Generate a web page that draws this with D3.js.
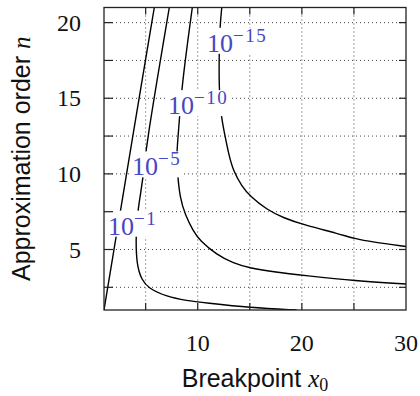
<!DOCTYPE html>
<html>
<head>
<meta charset="utf-8">
<script src="https://cdn.jsdelivr.net/npm/d3@7"></script>
<style>
  html, body { margin: 0; padding: 0; background: #fff; }
  svg { display: block; }
</style>
</head>
<body>
<div id="chart"></div>
<script>
// contour levels (mantissa + exponent, drawn as 10^exp)
const levelBase = ["10", "10", "10", "10"];
const levelExp = ["\u22121", "\u22125", "\u221210", "\u221215"];

// contour lines: [x0, n]
const contour1 = [[1.0, 1.0], [2.17, 5.88], [2.59, 7.58], [3.45, 11.2], [5.83, 21.0]];
const contour5 = [[7.27, 21.0], [5.0, 11.74], [4.8, 9.85], [4.24, 7.64], [4.05, 5.87], [4.13, 3.99],
  [4.62, 2.99], [5.26, 2.44], [7.02, 1.88], [8.94, 1.62], [10.7, 1.48], [15.02, 1.15], [19.5, 1.0]];
const contour10 = [[9.48, 21.0], [8.46, 15.83], [8.14, 12.62], [7.95, 11.18], [8.08, 9.85], [8.3, 8.42],
  [8.78, 7.31], [9.58, 6.2], [10.22, 5.58], [11.83, 4.65], [13.42, 4.1], [15.02, 3.77], [17.43, 3.5],
  [20.31, 3.28], [25.1, 2.93], [30.0, 2.72]];
const contour15 = [[12.31, 21.0], [12.14, 19.83], [12.05, 17.83], [12.05, 15.72], [12.21, 13.95],
  [12.62, 12.51], [12.98, 11.29], [13.42, 10.18], [14.23, 9.19], [15.02, 8.52], [16.63, 7.64],
  [18.22, 7.09], [20.31, 6.6], [23.5, 6.05], [25.1, 5.71], [26.7, 5.5], [30.0, 5.2]];

// where each label sits (data coords of text start / baseline)
const labelAt = [[1.38, 5.98], [3.69, 9.9], [7.15, 13.95], [10.89, 18.07]];

// ticks and grid
const xTickLabels = [10, 20, 30];
const xTicksAll = [5, 10, 15, 20, 25];
const yTickLabels = [5, 10, 15, 20];
const yTicksAll = [2.5, 5, 7.5, 10, 12.5, 15, 17.5, 20];

const margin = { top: 7.5, right: 14, bottom: 86, left: 104 };
const width = 420 - margin.left - margin.right;
const height = 396 - margin.top - margin.bottom;

const svg = d3.select("#chart").append("svg")
    .attr("width", 420)
    .attr("height", 396)
  .append("g")
    .attr("transform", `translate(${margin.left},${margin.top})`);

const x = d3.scaleLinear().domain([1, 30]).range([0, width]);
const y = d3.scaleLinear().domain([1, 21]).range([height, 0]);

svg.append("clipPath").attr("id", "plotclip")
  .append("rect").attr("width", width).attr("height", height);

// dotted grid
const grid = svg.append("g")
    .attr("stroke", "#444")
    .attr("stroke-width", 1)
    .attr("stroke-dasharray", "1,3");
grid.selectAll(".gx").data(xTicksAll).enter().append("line")
    .attr("x1", d => x(d)).attr("x2", d => x(d))
    .attr("y1", 0).attr("y2", height);
grid.selectAll(".gy").data(yTicksAll).enter().append("line")
    .attr("x1", 0).attr("x2", width)
    .attr("y1", d => y(d)).attr("y2", d => y(d));

// contour lines
const line = d3.line()
    .x(d => x(d[0]))
    .y(d => y(d[1]))
    .curve(d3.curveBasis);

svg.append("g").attr("clip-path", "url(#plotclip)")
  .selectAll("path")
  .data([contour1, contour5, contour10, contour15])
  .enter().append("path")
    .attr("d", line)
    .attr("fill", "none")
    .attr("stroke", "#000")
    .attr("stroke-width", 1.4);

// contour labels with white background
const labels = svg.append("g");
labelAt.forEach((p, i) => {
  const g = labels.append("g");
  const bg = g.append("rect").attr("fill", "#fff");
  const t = g.append("text")
      .attr("x", x(p[0]))
      .attr("y", y(p[1]))
      .attr("font-family", "Liberation Serif, serif")
      .attr("font-size", 26)
      .attr("fill", "#4747c2");
  t.append("tspan").text(levelBase[i]);
  t.append("tspan").attr("font-size", 19).attr("letter-spacing", 1.5).attr("dy", -10).text(levelExp[i]);
  const b = t.node().getBBox();
  bg.attr("x", b.x - 1).attr("y", b.y + 3)
    .attr("width", b.width + 2).attr("height", b.height - 7);
});

// frame
svg.append("rect")
    .attr("width", width).attr("height", height)
    .attr("fill", "none")
    .attr("stroke", "#222")
    .attr("stroke-width", 1.3);

// ticks on all four sides, pointing in
const ticks = svg.append("g").attr("stroke", "#222").attr("stroke-width", 1.2);
xTicksAll.forEach(d => {
  ticks.append("line").attr("x1", x(d)).attr("x2", x(d)).attr("y1", height).attr("y2", height - 7);
  ticks.append("line").attr("x1", x(d)).attr("x2", x(d)).attr("y1", 0).attr("y2", 7);
});
yTicksAll.forEach(d => {
  ticks.append("line").attr("x1", 0).attr("x2", 9).attr("y1", y(d)).attr("y2", y(d));
  ticks.append("line").attr("x1", width).attr("x2", width - 7).attr("y1", y(d)).attr("y2", y(d));
});

// tick labels
svg.append("g").selectAll("text").data(xTickLabels).enter().append("text")
    .attr("x", d => x(d))
    .attr("y", height + 41)
    .attr("text-anchor", "middle")
    .attr("font-family", "Liberation Serif, serif")
    .attr("font-size", 24)
    .attr("fill", "#111")
    .text(d => d);

svg.append("g").selectAll("text").data(yTickLabels).enter().append("text")
    .attr("x", -23)
    .attr("y", d => y(d) + 8)
    .attr("text-anchor", "end")
    .attr("font-family", "Liberation Serif, serif")
    .attr("font-size", 24)
    .attr("fill", "#111")
    .text(d => d);

// axis titles
const xl = svg.append("text")
    .attr("x", width / 2)
    .attr("y", height + 77)
    .attr("text-anchor", "middle")
    .attr("font-family", "Liberation Sans, sans-serif")
    .attr("font-size", 25)
    .attr("fill", "#111");
xl.append("tspan").text("Breakpoint ");
xl.append("tspan").attr("font-family", "Liberation Serif, serif").attr("font-style", "italic").text("x");
xl.append("tspan").attr("font-family", "Liberation Serif, serif").attr("font-size", 18).attr("dy", 4).text("0");

const yl = svg.append("text")
    .attr("transform", `translate(${-74},${height / 2}) rotate(-90)`)
    .attr("text-anchor", "middle")
    .attr("font-family", "Liberation Sans, sans-serif")
    .attr("font-size", 25)
    .attr("fill", "#111");
yl.append("tspan").text("Approximation order ");
yl.append("tspan").attr("font-family", "Liberation Serif, serif").attr("font-style", "italic").text("n");
</script>
</body>
</html>
